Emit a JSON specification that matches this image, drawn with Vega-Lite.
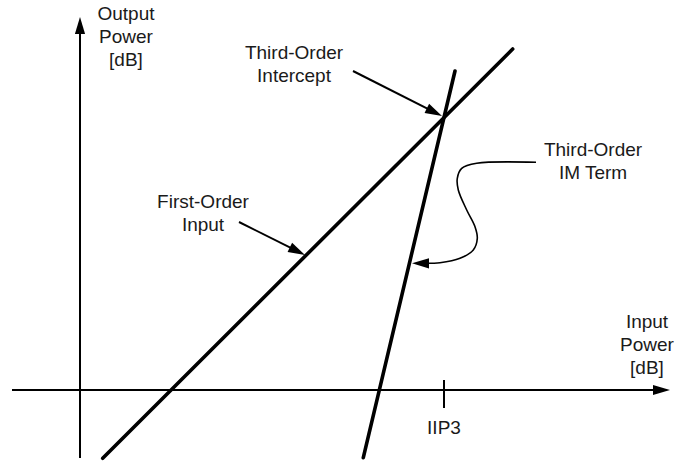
{
  "$schema": "https://vega.github.io/schema/vega-lite/v6.json",
  "width": 676,
  "height": 461,
  "padding": 0,
  "autosize": {"type": "none"},
  "background": "white",
  "config": {"view": {"stroke": null}},
  "datasets": {
    "lines": [
      {"series": "haxis", "o": 0, "x": -6.8, "y": 0},
      {"series": "haxis", "o": 1, "x": 58.5, "y": 0},
      {"series": "vaxis", "o": 0, "x": 0, "y": -6.8},
      {"series": "vaxis", "o": 1, "x": 0, "y": 36.8},
      {"series": "first", "o": 0, "x": 2.27, "y": -6.83},
      {"series": "first", "o": 1, "x": 43.27, "y": 34.1},
      {"series": "third", "o": 0, "x": 28.33, "y": -6.77},
      {"series": "third", "o": 1, "x": 37.5, "y": 31.9},
      {"series": "ptr1", "o": 0, "x": 27.3, "y": 31.9},
      {"series": "ptr1", "o": 1, "x": 35.48, "y": 27.76},
      {"series": "ptr2", "o": 0, "x": 15.9, "y": 16.8},
      {"series": "ptr2", "o": 1, "x": 21.78, "y": 13.86},
      {"series": "iip3", "o": 0, "x": 36.4, "y": 1.0},
      {"series": "iip3", "o": 1, "x": 36.4, "y": -1.8},
      {"series": "curve", "o": 0, "x": 45.6, "y": 22.77},
      {"series": "curve", "o": 1, "x": 39.67, "y": 22.67},
      {"series": "curve", "o": 2, "x": 38.17, "y": 22.17},
      {"series": "curve", "o": 3, "x": 37.73, "y": 21.17},
      {"series": "curve", "o": 4, "x": 37.83, "y": 20.0},
      {"series": "curve", "o": 5, "x": 38.67, "y": 18.0},
      {"series": "curve", "o": 6, "x": 39.5, "y": 16.33},
      {"series": "curve", "o": 7, "x": 39.73, "y": 15.17},
      {"series": "curve", "o": 8, "x": 39.33, "y": 14.0},
      {"series": "curve", "o": 9, "x": 38.0, "y": 13.17},
      {"series": "curve", "o": 10, "x": 36.0, "y": 12.73},
      {"series": "curve", "o": 11, "x": 34.3, "y": 12.67}
    ],
    "heads": [
      {"name": "h", "x": 59.0, "y": 0, "angle": 0},
      {"name": "v", "x": 0, "y": 37.3, "angle": 270},
      {"name": "p1", "x": 36.2, "y": 27.4, "angle": 26.6},
      {"name": "p2", "x": 22.5, "y": 13.5, "angle": 26.6},
      {"name": "c", "x": 33.2, "y": 12.67, "angle": 180}
    ],
    "labels": [
      {"text": "Output\nPower\n[dB]", "x": 4.6, "y": 37.6},
      {"text": "Third-Order\nIntercept", "x": 21.4, "y": 33.7},
      {"text": "Third-Order\nIM Term", "x": 51.3, "y": 24.0},
      {"text": "First-Order\nInput", "x": 12.3, "y": 18.83},
      {"text": "Input\nPower\n[dB]", "x": 56.7, "y": 6.8},
      {"text": "IIP3", "x": 36.4, "y": -3.8}
    ]
  },
  "encoding": {
    "x": {"field": "x", "type": "quantitative", "scale": {"domain": [-8, 59.6], "nice": false, "zero": false}, "axis": null},
    "y": {"field": "y", "type": "quantitative", "scale": {"domain": [-7.1, 39], "nice": false, "zero": false}, "axis": null}
  },
  "layer": [
    {
      "data": {"name": "lines"},
      "transform": [{"filter": "indexof(['haxis','vaxis','ptr1','ptr2','iip3'], datum.series) >= 0"}],
      "mark": {"type": "line", "color": "#000000", "strokeWidth": 2},
      "encoding": {"detail": {"field": "series"}, "order": {"field": "o", "type": "quantitative"}}
    },
    {
      "data": {"name": "lines"},
      "transform": [{"filter": "indexof(['first','third'], datum.series) >= 0"}],
      "mark": {"type": "line", "color": "#000000", "strokeWidth": 3.6, "strokeCap": "round"},
      "encoding": {"detail": {"field": "series"}, "order": {"field": "o", "type": "quantitative"}}
    },
    {
      "data": {"name": "lines"},
      "transform": [{"filter": "datum.series == 'curve'"}],
      "mark": {"type": "line", "color": "#000000", "strokeWidth": 1.6, "interpolate": "catmull-rom"},
      "encoding": {"detail": {"field": "series"}, "order": {"field": "o", "type": "quantitative"}}
    },
    {
      "data": {"name": "heads"},
      "mark": {"type": "point", "shape": "M0,0L-4,-1.2L-4,1.2Z", "filled": true, "size": 72, "color": "#000000", "opacity": 1},
      "encoding": {"angle": {"field": "angle", "type": "quantitative", "scale": null}}
    },
    {
      "data": {"name": "labels"},
      "mark": {"type": "text", "font": "Liberation Sans", "fontSize": 19, "color": "#1a1a1a", "align": "center", "baseline": "middle", "lineBreak": "\n", "lineHeight": 23},
      "encoding": {"text": {"field": "text"}}
    }
  ]
}
